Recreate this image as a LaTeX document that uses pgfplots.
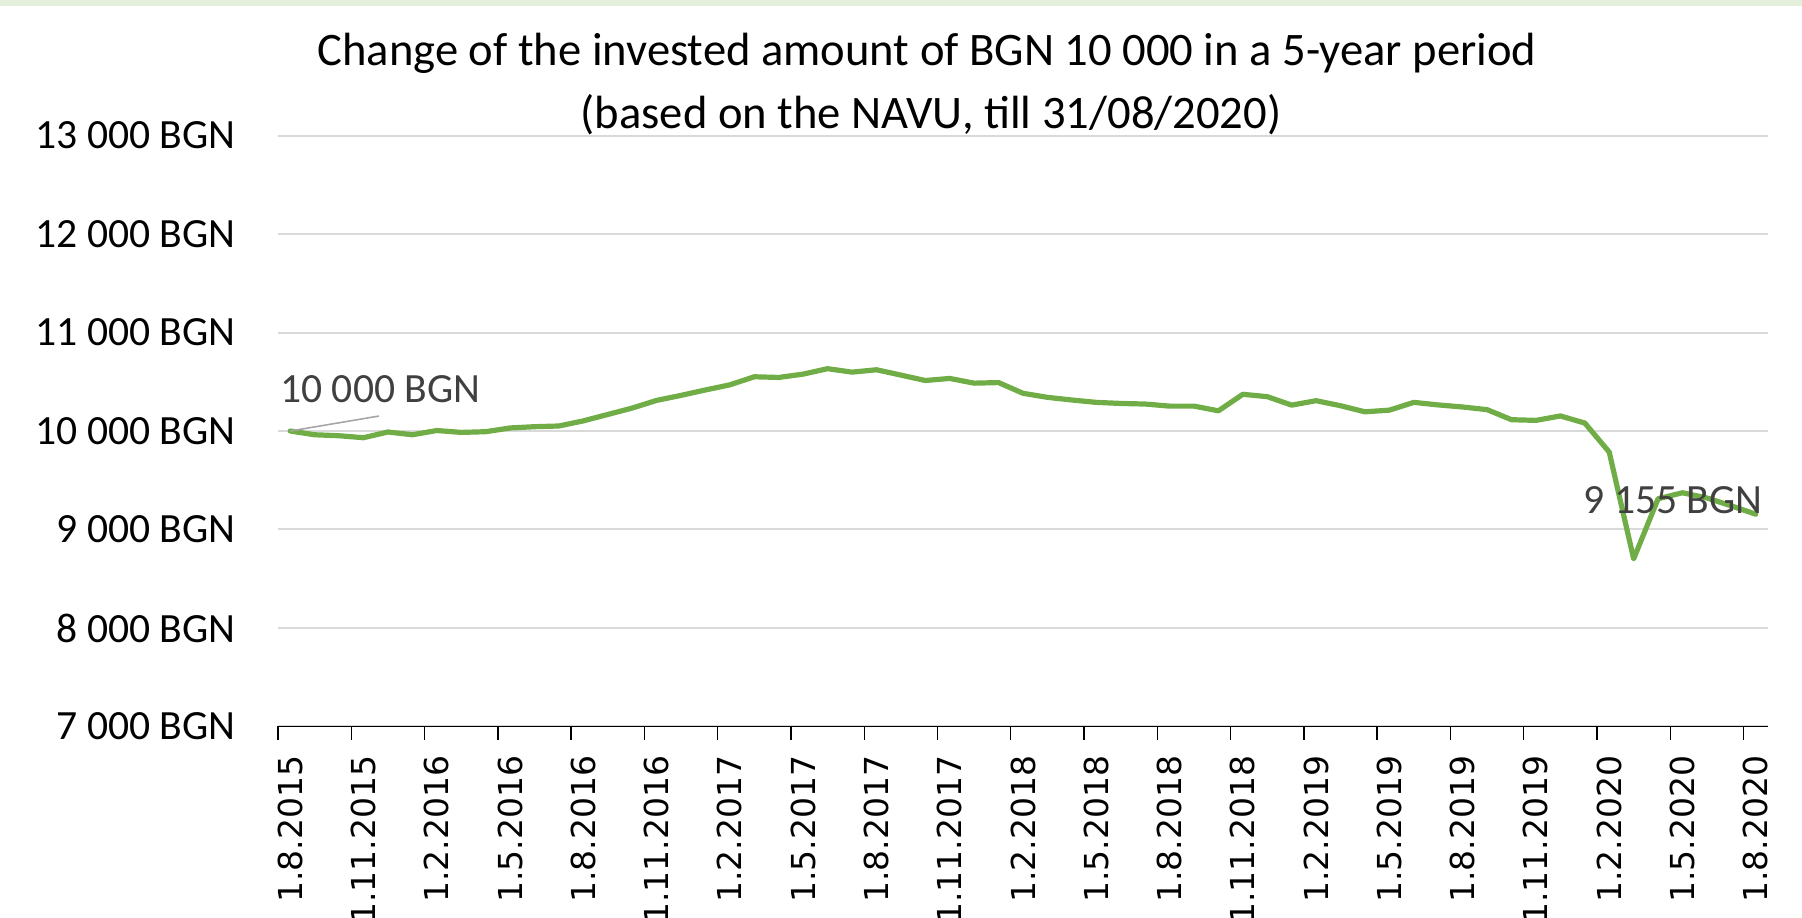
\documentclass[border=0pt]{standalone}
\usepackage{fontspec}
\setmainfont{Carlito}
\newfontfamily\dejavu{DejaVu Sans}
\usepackage{pgfplots}
\pgfplotsset{compat=1.18}
\usepackage{pgfplotstable}
\definecolor{linegreen}{HTML}{70AD47}
\definecolor{gridgray}{HTML}{D9D9D9}
\definecolor{labelgray}{HTML}{404040}
\definecolor{leadergray}{HTML}{A6A6A6}
\definecolor{bandgreen}{HTML}{E3EFDA}
\pgfplotstableread{
m value
0 10000
1 9962
2 9952
3 9932
4 9990
5 9962
6 10005
7 9986
8 9993
9 10031
10 10044
11 10051
12 10103
13 10168
14 10233
15 10311
16 10362
17 10417
18 10469
19 10551
20 10544
21 10578
22 10633
23 10598
24 10622
25 10568
26 10513
27 10534
28 10486
29 10492
30 10383
31 10342
32 10315
33 10291
34 10280
35 10274
36 10253
37 10253
38 10205
39 10373
40 10349
41 10263
42 10308
43 10257
44 10195
45 10212
46 10291
47 10265
48 10244
49 10217
50 10115
51 10108
52 10153
53 10081
54 9786
55 8702
56 9312
57 9373
58 9320
59 9240
60 9155
}\navdata
\begin{document}
\begin{tikzpicture}
\fill[bandgreen] (0pt,0pt) rectangle (901pt,-3pt);
\node[anchor=base, font=\fontsize{23.3}{28}\selectfont, inner sep=0pt] at (463.5pt,-32.5pt) {Change of the invested amount of BGN 10 000 in a 5-year period};
\node[anchor=base, font=\fontsize{23.3}{28}\selectfont, inner sep=0pt] at (465.5pt,-64pt) {(based on the NAVU, till 31/08/2020)};
\begin{axis}[
  at={(139pt,-363.2pt)}, anchor=south west,
  scale only axis, width=745pt, height=295.4pt,
  xmin=-0.5, xmax=60.5, ymin=7000, ymax=13000,
  scaled y ticks=false,
  axis x line*=bottom, axis y line*=left,
  y axis line style={draw=none},
  x axis line style={black, line width=0.8pt},
  ytick={7000,8000,...,13000},
  yticklabels={7 000 BGN,8 000 BGN,9 000 BGN,10 000 BGN,11 000 BGN,12 000 BGN,13 000 BGN},
  ytick style={draw=none},
  ymajorgrids, grid style={gridgray, line width=1pt},
  yticklabel style={font=\fontsize{20.8}{24}\selectfont, inner sep=0pt, anchor=east, xshift=-21pt},
  xtick={0,3,...,60},
  xticklabels={1.8.2015,1.11.2015,1.2.2016,1.5.2016,1.8.2016,1.11.2016,1.2.2017,1.5.2017,1.8.2017,1.11.2017,1.2.2018,1.5.2018,1.8.2018,1.11.2018,1.2.2019,1.5.2019,1.8.2019,1.11.2019,1.2.2020,1.5.2020,1.8.2020},
  minor xtick={-0.5,2.5,...,59.5},
  tick align=outside,
  major tick length=0pt, minor tick length=6.7pt,
  minor tick style={black, line width=0.7pt},
  xticklabel style={font=\dejavu\fontsize{16.5}{20}\selectfont, rotate=90, anchor=east, inner sep=0pt},
  xticklabel shift=14.5pt,
  clip=false,
]
\addplot[linegreen, line width=2.6pt, line join=round, line cap=round] table[x=m, y=value] {\navdata};
\draw[leadergray, line width=0.8pt] (axis cs:0,10000) -- (axis cs:3.63,10152);
\node[anchor=west, inner sep=0pt, text=labelgray, font=\fontsize{20.8}{24}\selectfont] at (axis cs:-0.42,10427) {10 000 BGN};
\node[anchor=east, inner sep=0pt, text=labelgray, font=\fontsize{20.8}{24}\selectfont] at (axis cs:60.29,9299) {9 155 BGN};
\end{axis}
\pgfresetboundingbox
\path[use as bounding box] (0pt,0pt) rectangle (901pt,-458.5pt);
\end{tikzpicture}
\end{document}
